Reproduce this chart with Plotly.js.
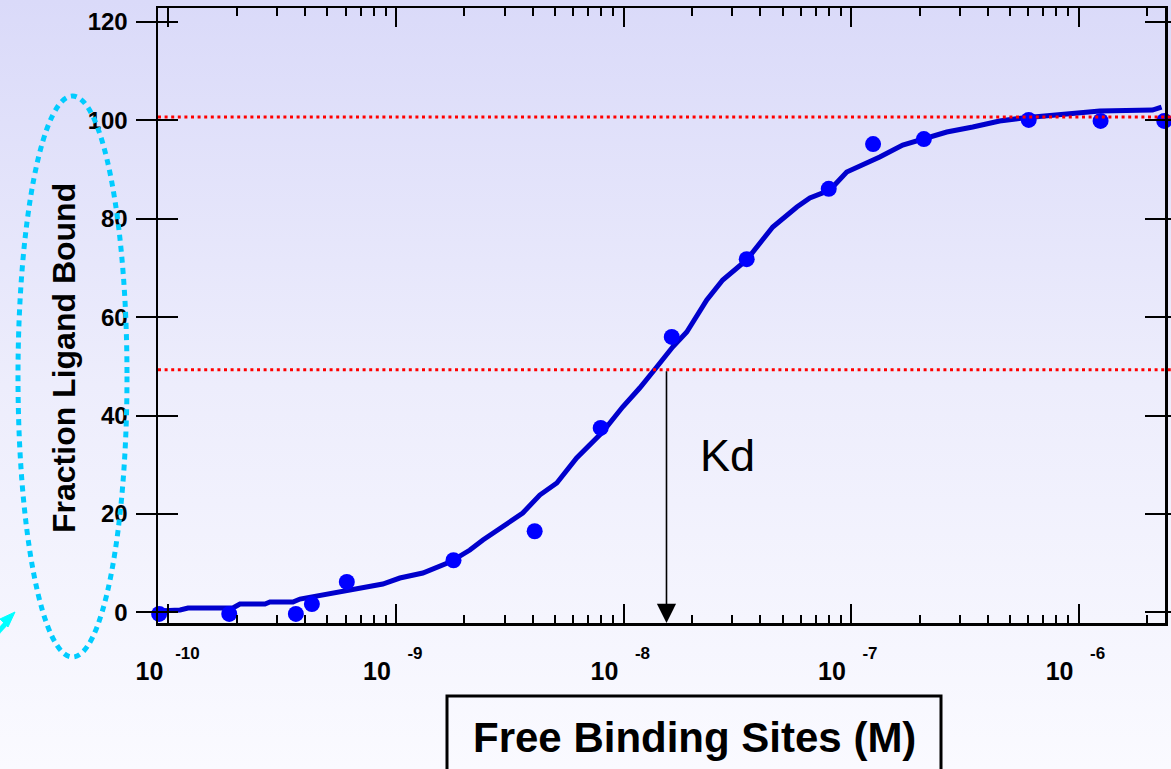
<!DOCTYPE html>
<html>
<head>
<meta charset="utf-8">
<script src="https://cdn.plot.ly/plotly-3.0.1.min.js"></script>
<style>
  html, body { margin:0; padding:0; width:1171px; height:769px; overflow:hidden;
    background: linear-gradient(to bottom, #DADAF9 0%, #EDEDFC 50%, #FAFAFF 100%); }
  #chart { width:1171px; height:769px; }
</style>
</head>
<body>
<div id="chart"></div>
<script>
// ---- data ----
const pointConc = [9.1e-11, 1.85e-10, 3.63e-10, 4.27e-10, 6.08e-10, 1.79e-9, 4.07e-9, 7.94e-9,
                   1.63e-8, 3.48e-8, 7.98e-8, 1.25e-7, 2.09e-7, 6.04e-7, 1.25e-6, 2.38e-6];
const pointBound = [-0.3, -0.3, -0.3, 1.7, 6.2, 10.6, 16.5, 37.5,
                    56.0, 71.8, 86.1, 95.2, 96.2, 100.1, 99.9, 99.9];

const fitConc = [8.99e-11, 1.125e-10, 1.219e-10, 1.919e-10, 2.061e-10, 2.655e-10, 2.793e-10, 3.524e-10,
                 3.784e-10, 5.129e-10, 6.281e-10, 8.75e-10, 1.04e-9, 1.312e-9, 1.726e-9, 2.113e-9,
                 2.41e-9, 2.951e-9, 3.606e-9, 4.285e-9, 5.093e-9, 6.223e-9, 8.091e-9, 9.908e-9,
                 1.178e-8, 1.4e-8, 1.644e-8, 1.897e-8, 2.323e-8, 2.729e-8, 3.475e-8, 4.529e-8,
                 5.781e-8, 6.592e-8, 8.072e-8, 9.572e-8, 1.337e-7, 1.687e-7, 2.153e-7, 2.636e-7,
                 3.428e-7, 4.498e-7, 5.675e-7, 8.26e-7, 1.239e-6, 2.113e-6, 2.317e-6];
const fitBound = [0.28, 0.49, 0.89, 0.89, 1.71, 1.71, 2.11, 2.11,
                  2.72, 3.74, 4.55, 5.77, 6.99, 8.01, 10.24, 12.68,
                  14.71, 17.36, 20.2, 23.86, 26.3, 31.38, 36.67, 41.75,
                  45.61, 49.88, 53.94, 56.99, 63.5, 67.56, 71.63, 78.33,
                  82.4, 84.23, 85.85, 89.51, 92.56, 95.0, 96.42, 97.64,
                  98.66, 99.88, 100.49, 101.1, 101.91, 102.11, 102.72];

const kdConc = 1.545e-8;
const maxLine = 100.7;
const halfLine = 49.3;

const xTickVals = [1e-10, 1e-9, 1e-8, 1e-7, 1e-6];
const xTickBase = ['10', '10', '10', '10', '10'];
const xTickExp = ['-10', '-9', '-8', '-7', '-6'];
const yTickVals = [0, 20, 40, 60, 80, 100, 120];
const yTickText = ['0', '20', '40', '60', '80', '100', '120'];

const xTitle = 'Free Binding Sites (M)';
const yTitle = 'Fraction Ligand Bound';
const kdLabel = 'Kd';

// ---- layout helpers ----
const xRange = [-10.046, -5.62];
const yRange = [-2.15, 122.85];
const FONT = 'Arial, "Liberation Sans", Helvetica, sans-serif';
const paperY = v => (v - yRange[0]) / (yRange[1] - yRange[0]);
const PX = px => (px - 158) / 1007;   // page px -> paper x
const PY = py => (623 - py) / 615;    // page px -> paper y

const minorVals = [];
for (let e = -11; e <= -5; e++) {
  for (let k = 2; k <= 9; k++) minorVals.push(k * Math.pow(10, e));
}

const traces = [
  { x: fitConc, y: fitBound, type: 'scatter', mode: 'lines',
    line: { color: '#0000CC', width: 5 }, hoverinfo: 'skip', showlegend: false },
  { x: pointConc, y: pointBound, type: 'scatter', mode: 'markers',
    marker: { color: '#0000FF', size: 16 }, cliponaxis: false, showlegend: false },
  // carrier for the exponent tick-label axis (no visible marks)
  { x: xTickVals, y: xTickVals.map(() => null), xaxis: 'x2', yaxis: 'y', type: 'scatter',
    mode: 'markers', hoverinfo: 'skip', showlegend: false }
];

const layout = {
  width: 1171, height: 769,
  margin: { l: 158, r: 6, t: 8, b: 146 },
  paper_bgcolor: 'rgba(0,0,0,0)',
  plot_bgcolor: 'rgba(0,0,0,0)',
  showlegend: false,
  font: { family: FONT, color: '#000' },
  xaxis: {
    type: 'log', range: xRange, showgrid: false, zeroline: false,
    showline: true, linecolor: '#000', linewidth: 2.5, mirror: 'allticks',
    ticks: 'inside', ticklen: 19, tickwidth: 2, tickcolor: '#000',
    tickmode: 'array', tickvals: xTickVals, ticktext: xTickBase,
    tickfont: { family: FONT, size: 25, color: '#000', weight: 'bold' },
    ticklabelstandoff: 24, ticklabelshift: -19,
    minor: { tickmode: 'array', tickvals: minorVals, ticks: 'inside', ticklen: 8, tickwidth: 2, tickcolor: '#000', showgrid: false }
  },
  xaxis2: {
    type: 'log', range: xRange, overlaying: 'x', anchor: 'y', side: 'bottom',
    showgrid: false, zeroline: false, showline: false, ticks: '',
    tickmode: 'array', tickvals: xTickVals, ticktext: xTickExp,
    tickfont: { family: FONT, size: 17, color: '#000', weight: 'bold' },
    ticklabelstandoff: 18, ticklabelshift: 19
  },
  yaxis: {
    range: yRange, showgrid: false, zeroline: false,
    showline: true, linecolor: '#000', linewidth: 2.5, mirror: 'allticks',
    ticks: 'inside', ticklen: 20, tickwidth: 2, tickcolor: '#000',
    tickmode: 'array', tickvals: yTickVals, ticktext: yTickText,
    tickfont: { family: FONT, size: 24, color: '#000', weight: 'bold' },
    ticklabelstandoff: 23
  },
  shapes: [
    { type: 'line', xref: 'paper', yref: 'paper', x0: 0, x1: 1.006, y0: paperY(maxLine), y1: paperY(maxLine),
      line: { color: '#FF0000', width: 3, dash: '3px,3.6px' } },
    { type: 'line', xref: 'paper', yref: 'paper', x0: 0, x1: 1.006, y0: paperY(halfLine), y1: paperY(halfLine),
      line: { color: '#FF0000', width: 3, dash: '3px,3.6px' } },
    { type: 'circle', xref: 'paper', yref: 'paper', x0: PX(18), x1: PX(127), y0: PY(657), y1: PY(96),
      line: { color: '#00CCFF', width: 5, dash: '6px,5px' } },
    { type: 'rect', xref: 'paper', yref: 'paper', x0: PX(447), x1: PX(941), y0: PY(800), y1: PY(696),
      line: { color: '#000', width: 3 } },
    // cyan pointer shaft (continues off the page to the lower left)
    { type: 'line', xref: 'paper', yref: 'paper', x0: PX(-20), y0: PY(652), x1: PX(8), y1: PY(621),
      line: { color: '#00FFFF', width: 5 } },
    // cyan pointer head
    { type: 'path', xref: 'paper', yref: 'paper',
      path: 'M ' + PX(15) + ' ' + PY(612) + ' L ' + PX(0) + ' ' + PY(619) + ' L ' + PX(8) + ' ' + PY(627) + ' Z',
      fillcolor: '#00FFFF', line: { color: '#00FFFF', width: 1 } }
  ],
  annotations: [
    { xref: 'x', yref: 'y', x: Math.log10(kdConc), y: yRange[0], axref: 'x', ayref: 'y',
      ax: Math.log10(kdConc), ay: halfLine, text: '', showarrow: true,
      arrowhead: 2, arrowsize: 2.4, arrowwidth: 1.6, arrowcolor: '#000', standoff: 0 },
    { xref: 'paper', yref: 'paper', x: PX(727), y: PY(455), xanchor: 'center', yanchor: 'middle',
      text: kdLabel, showarrow: false, font: { family: FONT, size: 45, color: '#000' } },
    { xref: 'paper', yref: 'paper', x: PX(694), y: PY(737), xanchor: 'center', yanchor: 'middle',
      text: '<b>' + xTitle + '</b>', showarrow: false, font: { family: FONT, size: 42, color: '#000' } },
    { xref: 'paper', yref: 'paper', x: PX(64), y: PY(358), xanchor: 'center', yanchor: 'middle',
      text: '<b>' + yTitle + '</b>', textangle: -90, showarrow: false,
      font: { family: FONT, size: 32, color: '#000' } }
  ]
};

Plotly.newPlot('chart', traces, layout, { displayModeBar: false, staticPlot: true });
</script>
</body>
</html>
